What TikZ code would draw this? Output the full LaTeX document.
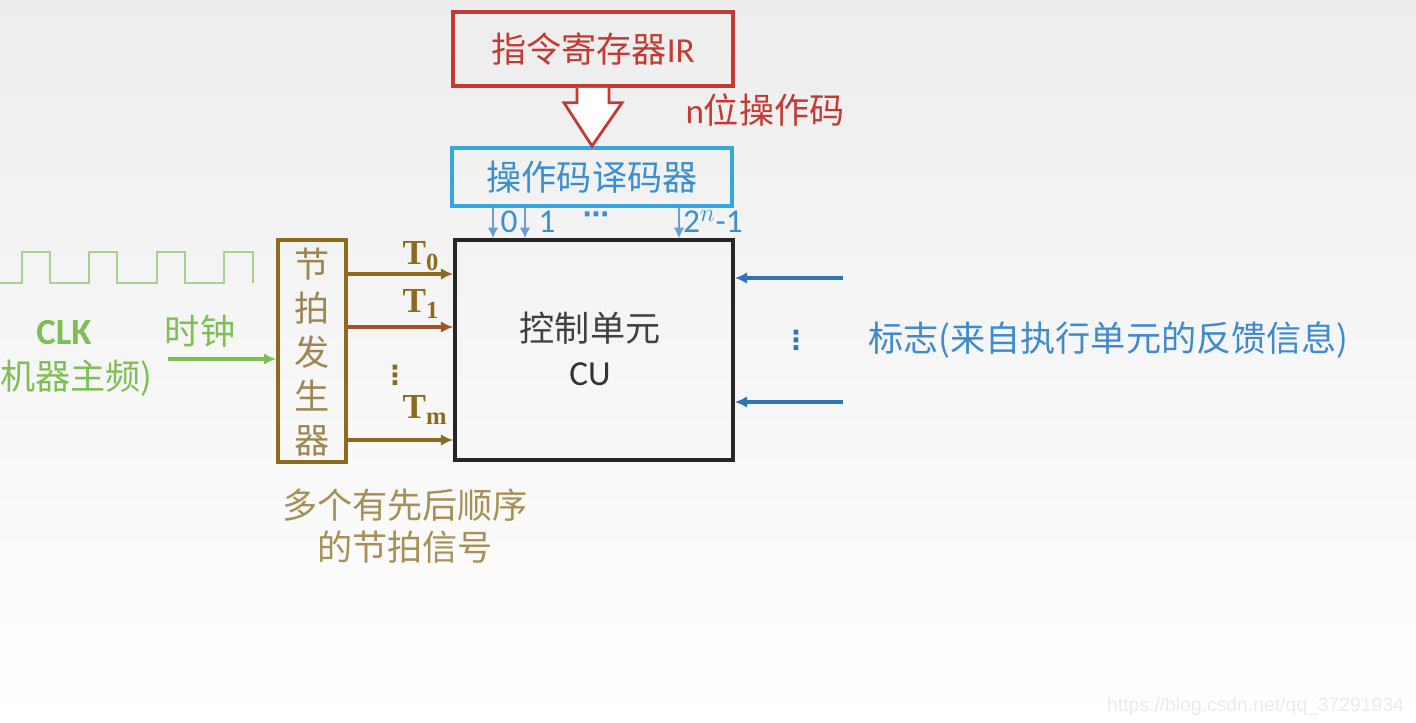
\documentclass[tikz,border=0pt]{standalone}
\usepackage{fontspec}
\setmainfont{Noto Sans CJK SC}
\newfontfamily\lat{Carlito}
\newfontfamily\tser{Liberation Serif}
\newfontfamily\webfont{Liberation Sans}
\newfontfamily\symf{DejaVu Sans}
\usetikzlibrary{arrows.meta,calc}
\definecolor{irred}{HTML}{C43A32}
\definecolor{decblue}{HTML}{35A6DF}
\definecolor{dectext}{HTML}{3A8FD3}
\definecolor{pinblue}{HTML}{6E9CD4}
\definecolor{beat}{HTML}{8C6B1E}
\definecolor{beattext}{HTML}{9C8752}
\definecolor{rust}{HTML}{A4502A}
\definecolor{clkgreen}{HTML}{A9D18E}
\definecolor{clktext}{HTML}{7DBF52}
\definecolor{flagblue}{HTML}{2E75B6}
\definecolor{flagtext}{HTML}{3D8AD0}
\definecolor{note}{HTML}{A88F55}

\begin{document}
\begin{tikzpicture}[>=Latex,x=0.02cm,y=-0.02cm,
  big/.style={font=\fontsize{20}{24}\selectfont},
  box/.style={draw,line width=2pt,inner sep=0pt},
  pin/.style={pinblue,line width=1pt,-{Latex[length=6pt,width=6pt]}},
  sig/.style={line width=1.9pt,-{Latex[length=7pt,width=6.5pt]}},
  tlab/.style={text=beat,font=\tser\bfseries\fontsize{20}{24}\selectfont},
  dots/.style={font=\symf\bfseries\fontsize{15}{17}\selectfont,inner sep=0pt}]
% background
\shade[top color=black!7,bottom color=white] (0,0) rectangle (1416,723);
\useasboundingbox (0,0) rectangle (1416,723);

% boxes
\node[box,draw=irred,minimum width=280*0.02cm,minimum height=74*0.02cm,big,text=irred] (ir) at (593,49) {指令寄存器{\lat IR}};
\node[box,draw=decblue,line width=2.2pt,minimum width=280*0.02cm,minimum height=58*0.02cm,big,text=dectext] (dec) at (592,177) {操作码译码器};
\node[box,draw=black!85,minimum width=278*0.02cm,minimum height=220*0.02cm] (cu) at (594,350) {};
\node[big,text=black!75] (cuname) at (590,328) {控制单元};
\node[big,text=black!80] (cutag) at (590,374) {\lat CU};
\node[box,draw=beat,minimum width=68*0.02cm,minimum height=222*0.02cm] (beatgen) at (312,351) {};
\node[big,text=beattext,align=center,font=\fontsize{20}{25}\selectfont] (beatname) at (312,352) {节\\拍\\发\\生\\器};

% hollow arrow IR -> decoder
\draw[irred,line width=1.6pt,fill=white,line join=miter]
  ($(ir.south)+(-16,0)$) -- ++(0,15) -- ++(-13,0) -- (dec.north)
  -- ($(ir.south)+(29,15)$) -- ++(-13,0) -- ($(ir.south)+(16,0)$);
\node[big,text=irred] (opbits) at (765,110) {{\lat n}位操作码};

% decoder outputs
\foreach \x in {493,525,679}
  \draw[pin] (dec.south -| \x,0) -- (cu.north -| \x,0);
\node[text=dectext,font=\lat\fontsize{19}{22}\selectfont] (out0) at (509,222) {0};
\node[text=dectext,font=\lat\fontsize{19}{22}\selectfont] (out1) at (547,222) {1};
\node[text=dectext,dots] (outdots) at (596,218) {⋯};
\node[text=dectext,font=\lat\fontsize{19}{22}\selectfont] (outn) at (713,222) {2$^n$-1};

% beat signals
\draw[sig,beat] (beatgen.east |- 0,274) -- (cu.west |- 0,274);
\draw[sig,rust] (beatgen.east |- 0,327) -- (cu.west |- 0,327);
\draw[sig,beat] (beatgen.east |- 0,440) -- (cu.west |- 0,440);
\node[tlab] (t0) at (421,256) {T\textsubscript{0}};
\node[tlab] (t1) at (421,304) {T\textsubscript{1}};
\node[text=beat,dots] (tdots) at (395,375) {⋮};
\node[tlab] (tm) at (425,410) {T\textsubscript{m}};

% clock
\draw[clkgreen,line width=1.3pt]
  (0,283) -- (22,283) -- (22,252) -- (50,252) -- (50,283) -- (89,283) -- (89,252)
  -- (117,252) -- (117,283) -- (157,283) -- (157,252) -- (185,252) -- (185,283)
  -- (224,283) -- (224,252) -- (253,252) -- (253,283);
\node[text=clktext,font=\lat\bfseries\fontsize{21}{24}\selectfont] (clk) at (64,333) {CLK};
\node[big,text=clktext,anchor=west,inner sep=0pt] (freq) at (0,378) {机器主频)};
\node[big,text=clktext] (clock) at (200,331) {时钟};
\coordinate (clkin) at (168,359);
\draw[sig,clktext] (clkin) -- (beatgen.west |- clkin);

% flags
\coordinate (flagA) at (843,278);
\coordinate (flagB) at (843,402);
\draw[sig,flagblue] (flagA) -- (cu.east |- flagA);
\draw[sig,flagblue] (flagB) -- (cu.east |- flagB);
\node[text=flagblue,dots] (fdots) at (796,340) {⋮};
\node[big,text=flagtext,anchor=west] (flags) at (862,340) {标志(来自执行单元的反馈信息)};

% note
\node[big,text=note,align=center,font=\fontsize{20}{24}\selectfont] (beatnote) at (405,526) {多个有先后顺序\\的节拍信号};
\node[text=black!8,anchor=east,font=\webfont\fontsize{11}{13}\selectfont] (mark) at (1410,706) {https://blog.csdn.net/qq\_37291934};
\end{tikzpicture}
\end{document}
